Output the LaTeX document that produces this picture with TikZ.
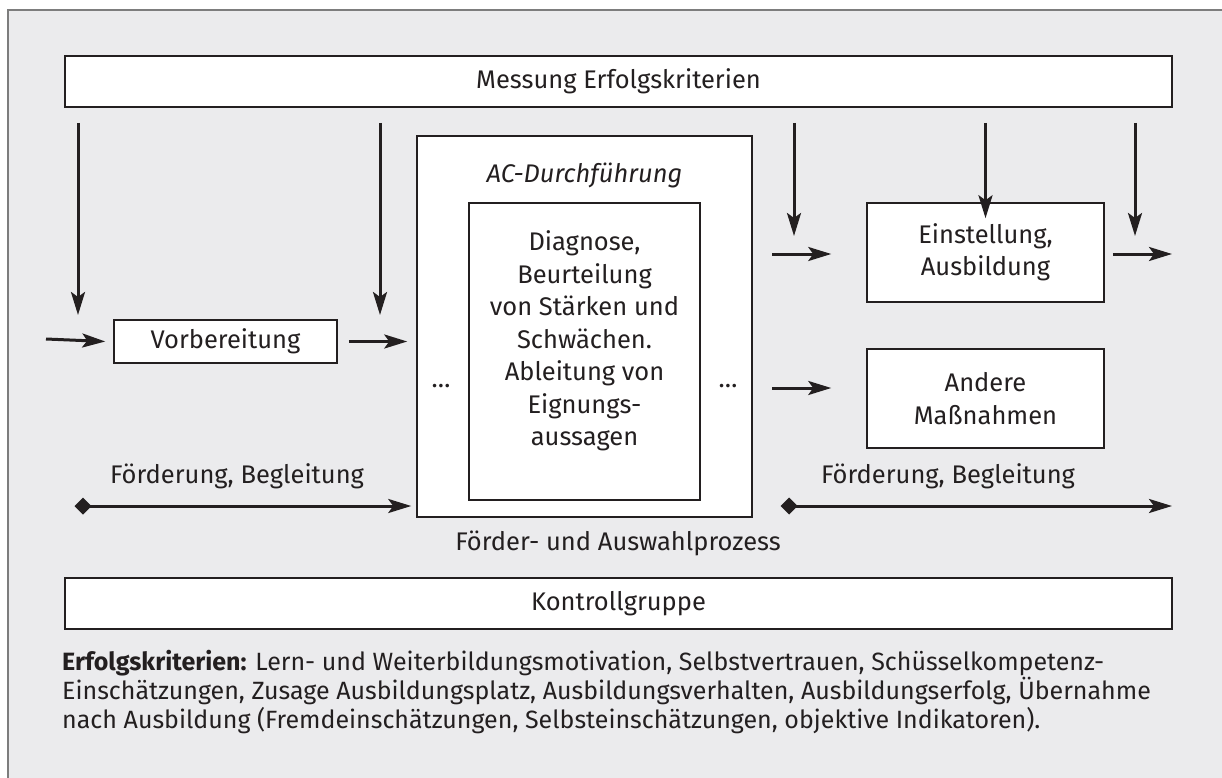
\documentclass[tikz,border=0pt]{standalone}
\usepackage{fontspec}
\setmainfont{Fira Sans}
\usetikzlibrary{arrows.meta}
\definecolor{bg}{RGB}{235,235,237}
\definecolor{framec}{RGB}{125,125,125}
\definecolor{ink}{RGB}{35,31,32}
\begin{document}
\begin{tikzpicture}[x=1pt,y=-1pt,
  font=\fontsize{25.5}{32.5}\selectfont, text=ink,
  box/.style={draw=ink, fill=white, line width=1.5pt, inner sep=0pt, align=center},
  lbl/.style={inner sep=0pt, align=center},
  arr/.style={draw=ink, line width=3pt, -{Stealth[length=23pt,width=14pt,inset=5pt]}},
  darr/.style={draw=ink, line width=3pt, {Diamond[length=17pt,width=17pt]}-{Stealth[length=23pt,width=14pt,inset=5pt]}}]
\useasboundingbox (0,0) rectangle (1222,778);
\fill[white] (0,0) rectangle (1222,778);
\fill[bg] (8,10) rectangle (1240,800);
\draw[framec, line width=2pt] (8,800) -- (8,10) -- (1240,10);

% boxes
\node[box, minimum width=1107pt, minimum height=51pt] (mess) at (618.5,81.5) {Messung Erfolgskriterien};
\node[box, minimum width=1107pt, minimum height=51pt] (kontr) at (618.5,603.5) {Kontrollgruppe};
\node[box, minimum width=223pt, minimum height=43pt] (vor) at (225.5,341.5) {Vorbereitung};
\node[box, minimum width=335pt, minimum height=381pt] (ac) at (584.5,326.5) {};
\node[lbl] (actitle) at (584.5,175) {\itshape AC-Durchführung};
\node[box, minimum width=231pt, minimum height=297pt] (inner) at (584.5,351.5) {};
\node[lbl] (innertext) at (584.5,341) {Diagnose,\\Beurteilung\\von Stärken und\\Schwächen.\\Ableitung von\\Eignungs-\\aussagen};
\node[lbl] (dotsL) at (441,386) {\ldots};
\node[lbl] (dotsR) at (728,386) {\ldots};
\node[box, minimum width=237pt, minimum height=99pt] (einst) at (985.5,252.5) {Einstellung,\\Ausbildung};
\node[box, minimum width=237pt, minimum height=99pt] (andere) at (985.5,398.5) {Andere\\Maßnahmen};
\node[lbl] (foerdL) at (237,476) {Förderung, Begleitung};
\node[lbl] (foerdR) at (948,476) {Förderung, Begleitung};
\node[lbl] (prozess) at (618,543) {Förder- und Auswahlprozess};
\node[lbl, anchor=north west, align=left, font=\fontsize{25}{29}\selectfont] (crit) at (62,650)
  {\textbf{Erfolgskriterien:} Lern- und Weiterbildungsmotivation, Selbstvertrauen, Schüsselkompetenz-\\
   Einschätzungen, Zusage Ausbildungsplatz, Ausbildungsverhalten, Ausbildungserfolg, Übernahme\\
   nach Ausbildung (Fremdeinschätzungen, Selbsteinschätzungen, objektive Indikatoren).};

% free ends
\coordinate (d1a) at (78,123);   \coordinate (d1b) at (78,315);
\coordinate (d2a) at (380,123);  \coordinate (d2b) at (380,315);
\coordinate (d3a) at (794,123);  \coordinate (d3b) at (794,236);
\coordinate (d4a) at (985.5,123);
\coordinate (d5a) at (1135,123); \coordinate (d5b) at (1135,236);
\coordinate (h1a) at (46,339);
\coordinate (h3a) at (772,254);
\coordinate (h4a) at (772,388);
\coordinate (h5b) at (1172,254);
\coordinate (fl) at (74.5,506);
\coordinate (fr) at (780.5,506);
\coordinate (frb) at (1172,506);

% arrows
\draw[arr] (d1a) -- (d1b);
\draw[arr] (d2a) -- (d2b);
\draw[arr] (d3a) -- (d3b);
\draw[arr] (d4a) -- ([yshift=-16pt]einst.north);
\draw[arr] (d5a) -- (d5b);
\draw[arr] (h1a) -- ([xshift=-8pt]vor.west);
\draw[arr] ([xshift=11pt]vor.east) -- ([xshift=-9pt]ac.west |- vor.east);
\draw[arr] (h3a) -- ([xshift=-35pt]einst.west |- h3a);
\draw[arr] (h4a) -- ([xshift=-35pt]andere.west |- h4a);
\draw[arr] ([xshift=8pt]einst.east |- h5b) -- (h5b);
\draw[darr] (fl) -- ([xshift=-5pt]ac.west |- fl);
\draw[darr] (fr) -- (frb);
\end{tikzpicture}
\end{document}
